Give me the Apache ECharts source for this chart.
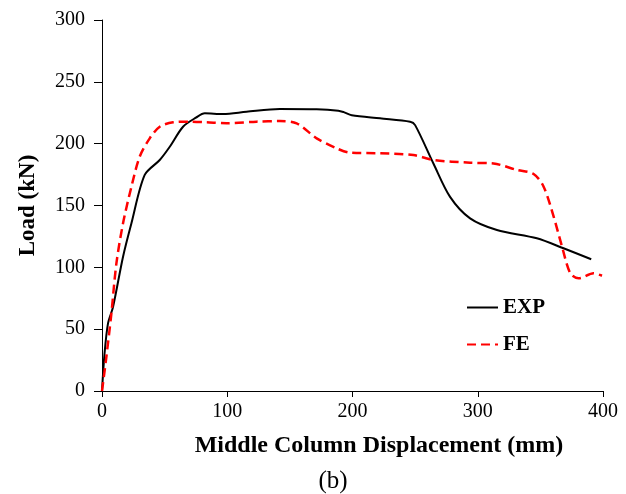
<!DOCTYPE html>
<html>
<head>
<meta charset="utf-8">
<script src="https://cdn.jsdelivr.net/npm/echarts@6/dist/echarts.min.js"></script>
<style>html,body{margin:0;padding:0;background:#fff;}#c{width:626px;height:494px;}</style>
</head>
<body>
<div id="c"></div>
<script>
var expDisp = [0, 2, 4.8, 8.8, 16.8, 23.5, 34.1, 46.1, 54.1, 64.7, 75, 82.1, 96.7, 115.4, 142, 171.4, 188.7, 193, 199.4, 222, 246, 250, 264.6, 277.9, 293.9, 315.3, 347.2, 368.5, 390.6];
var expLoad = [0, 30, 54.7, 68, 108.6, 135.6, 174.7, 186.8, 197.5, 213.7, 221, 224.5, 224, 225.8, 228, 227.8, 226.7, 225.5, 223, 220.5, 217.8, 215, 184, 157, 139.6, 130.2, 123.5, 115.4, 106.5];
var feDisp = [0, 3.5, 7.5, 11.5, 16.8, 23.5, 30.1, 38.1, 46.1, 56.8, 70.1, 83.5, 99.4, 123.4, 142, 155.4, 171.4, 187.4, 198, 222, 248.6, 264.6, 293.9, 312.6, 331.3, 344.6, 352.6, 360.6, 367.3, 373.9, 380.5, 392.5, 399.2];
var feLoad = [0, 27.7, 62.8, 103.2, 135.6, 165.2, 189.5, 204.3, 213.7, 217.3, 217.8, 217.3, 216.5, 217.8, 218.3, 216.5, 204.3, 196.2, 192.7, 192.2, 190.8, 186.8, 184.6, 184, 178.7, 175.5, 165.2, 141, 116.7, 95.2, 91.1, 95.2, 93.2];
var xTicks = [0, 100, 200, 300, 400];
var yTicks = [0, 50, 100, 150, 200, 250, 300];

function pairs(xs, ys) { return xs.map(function (x, i) { return [x, ys[i]]; }); }
var FONT = "'Liberation Serif', 'Times New Roman', serif";

var chart = echarts.init(document.getElementById('c'), null, {renderer: 'canvas'});
chart.setOption({
  backgroundColor: '#fff',
  animation: false,
  grid: {left: 102, right: 23, top: 20, bottom: 103, containLabel: false},
  xAxis: {
    type: 'value', min: xTicks[0], max: xTicks[xTicks.length - 1], interval: 100,
    axisLine: {show: true, lineStyle: {color: '#000', width: 1}},
    axisTick: {show: true, length: 6, lineStyle: {color: '#000'}},
    axisLabel: {color: '#000', fontFamily: FONT, fontSize: 20, margin: 11},
    splitLine: {show: false}
  },
  yAxis: {
    type: 'value', min: yTicks[0], max: yTicks[yTicks.length - 1], interval: 50,
    axisLine: {show: true, lineStyle: {color: '#000', width: 1}},
    axisTick: {show: true, length: 8, lineStyle: {color: '#000'}},
    axisLabel: {color: '#000', fontFamily: FONT, fontSize: 20, margin: 17},
    splitLine: {show: false},
    name: 'Load (kN)', nameLocation: 'middle', nameGap: 62, nameRotate: 90,
    nameTextStyle: {color: '#000', fontFamily: FONT, fontSize: 23, fontWeight: 'bold'}
  },
  legend: {
    orient: 'vertical', left: 461, top: 292, itemWidth: 31, itemHeight: 14, itemGap: 16,
    itemStyle: {opacity: 0, borderWidth: 0},
    textStyle: {color: '#000', fontFamily: FONT, fontSize: 21, fontWeight: 'bold', lineHeight: 21},
    data: [{name: 'EXP'}, {name: 'FE'}]
  },
  graphic: [
    {type: 'text', x: 379, y: 446, style: {text: 'Middle Column Displacement (mm)', fill: '#000', font: "bold 24px " + FONT, textAlign: 'center', textVerticalAlign: 'middle'}},
    {type: 'text', x: 333, y: 481, style: {text: '(b)', fill: '#000', font: "25px " + FONT, textAlign: 'center', textVerticalAlign: 'middle'}}
  ],
  series: [
    {name: 'EXP', type: 'line', data: pairs(expDisp, expLoad), showSymbol: false, symbol: 'none', smooth: 0.3,
     lineStyle: {color: '#000', width: 2, type: 'solid'}, itemStyle: {color: '#000'}},
    {name: 'FE', type: 'line', data: pairs(feDisp, feLoad), showSymbol: false, symbol: 'none', smooth: 0.3,
     lineStyle: {color: '#ff0000', width: 2.5, type: [9, 5]}, itemStyle: {color: '#ff0000'}}
  ]
});
</script>
</body>
</html>
